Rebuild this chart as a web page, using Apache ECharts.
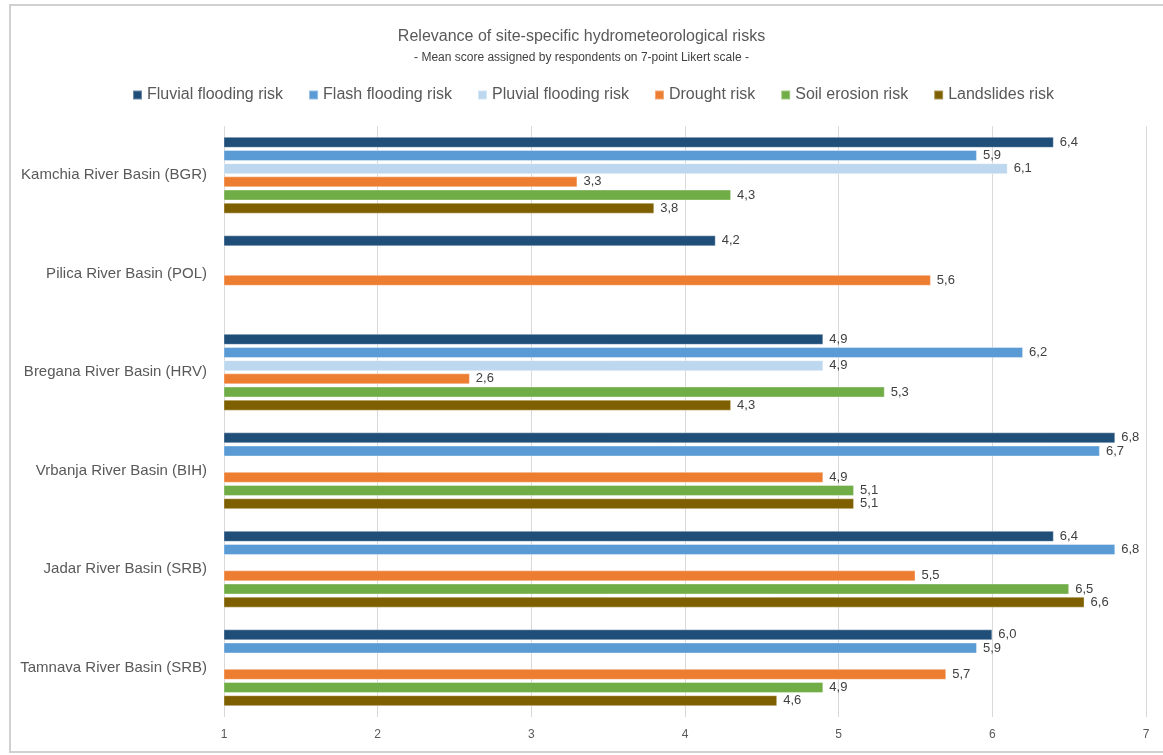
<!DOCTYPE html>
<html>
<head>
<meta charset="utf-8">
<script src="https://cdn.jsdelivr.net/npm/echarts@6/dist/echarts.min.js"></script>
<style>
  html, body { margin: 0; padding: 0; background: #fff; }
  #chart { width: 1163px; height: 755px; }
</style>
</head>
<body>
<div id="chart"></div>
<script>
// River basins (top to bottom)
const basins = [
  'Kamchia River Basin (BGR)',
  'Pilica River Basin (POL)',
  'Bregana River Basin (HRV)',
  'Vrbanja River Basin (BIH)',
  'Jadar River Basin (SRB)',
  'Tamnava River Basin (SRB)'
];

// Mean scores per risk type (null = not assessed)
const fluvial    = [6.4, 4.2, 4.9, 6.8, 6.4, 6.0];
const flash      = [5.9, null, 6.2, 6.7, 6.8, 5.9];
const pluvial    = [6.1, null, 4.9, null, null, null];
const drought    = [3.3, 5.6, 2.6, 4.9, 5.5, 5.7];
const soil       = [4.3, null, 5.3, 5.1, 6.5, 4.9];
const landslides = [3.8, null, 4.3, 5.1, 6.6, 4.6];

const riskNames = [
  'Fluvial flooding risk',
  'Flash flooding risk',
  'Pluvial flooding risk',
  'Drought risk',
  'Soil erosion risk',
  'Landslides risk'
];
const riskValues = [fluvial, flash, pluvial, drought, soil, landslides];
const riskColors = ['#1F4E79', '#5B9BD5', '#BDD7EE', '#ED7D31', '#70AD47', '#7F6000'];

const xTicks = [1, 2, 3, 4, 5, 6, 7];

const FONT = "'Liberation Sans', Arial, sans-serif";

const chart = echarts.init(document.getElementById('chart'));

const series = riskNames.map((name, i) => ({
  name: name,
  type: 'bar',
  data: riskValues[i],
  barCategoryGap: '22%',
  barGap: '20%',
  itemStyle: { color: riskColors[i], borderColor: 'rgba(255,255,255,0.35)', borderWidth: 1 },
  label: {
    show: true,
    position: 'right',
    distance: 6,
    color: '#404040',
    fontSize: 13,
    fontFamily: FONT,
    formatter: p => (p.value == null ? '' : p.value.toFixed(1).replace('.', ','))
  },
  emphasis: { disabled: true }
}));

chart.setOption({
  backgroundColor: '#fff',
  animation: false,
  textStyle: { fontFamily: FONT },
  graphic: [{
    type: 'rect',
    shape: { x: 10, y: 5, width: 1160, height: 747 },
    style: { fill: 'none', stroke: '#d0d0d0', lineWidth: 2 },
    silent: true,
    z: -10
  }],
  title: {
    text: 'Relevance of site-specific hydrometeorological risks',
    subtext: '- Mean score assigned by respondents on 7-point Likert scale -',
    left: 'center',
    top: 24,
    itemGap: 7,
    textStyle: { fontSize: 16, fontWeight: 'normal', color: '#595959', fontFamily: FONT },
    subtextStyle: { fontSize: 12, color: '#404040', fontFamily: FONT }
  },
  legend: {
    top: 82,
    left: 127,
    itemWidth: 9,
    itemHeight: 9,
    itemGap: 25,
    icon: 'rect',
    textStyle: { fontSize: 16, color: '#595959', fontFamily: FONT },
    data: riskNames
  },
  grid: { left: 224, right: 17, top: 126, bottom: 38 },
  xAxis: {
    type: 'value',
    min: xTicks[0],
    max: xTicks[xTicks.length - 1],
    interval: 1,
    axisLine: { show: false },
    axisTick: { show: false },
    axisLabel: { color: '#595959', fontSize: 12, margin: 12, fontFamily: FONT },
    splitLine: { lineStyle: { color: '#d9d9d9', width: 1 } }
  },
  yAxis: {
    type: 'category',
    data: basins,
    inverse: true,
    axisLine: { show: false },
    axisTick: { show: false },
    axisLabel: { color: '#595959', fontSize: 15, margin: 17, fontFamily: FONT }
  },
  series: series
});
</script>
</body>
</html>
